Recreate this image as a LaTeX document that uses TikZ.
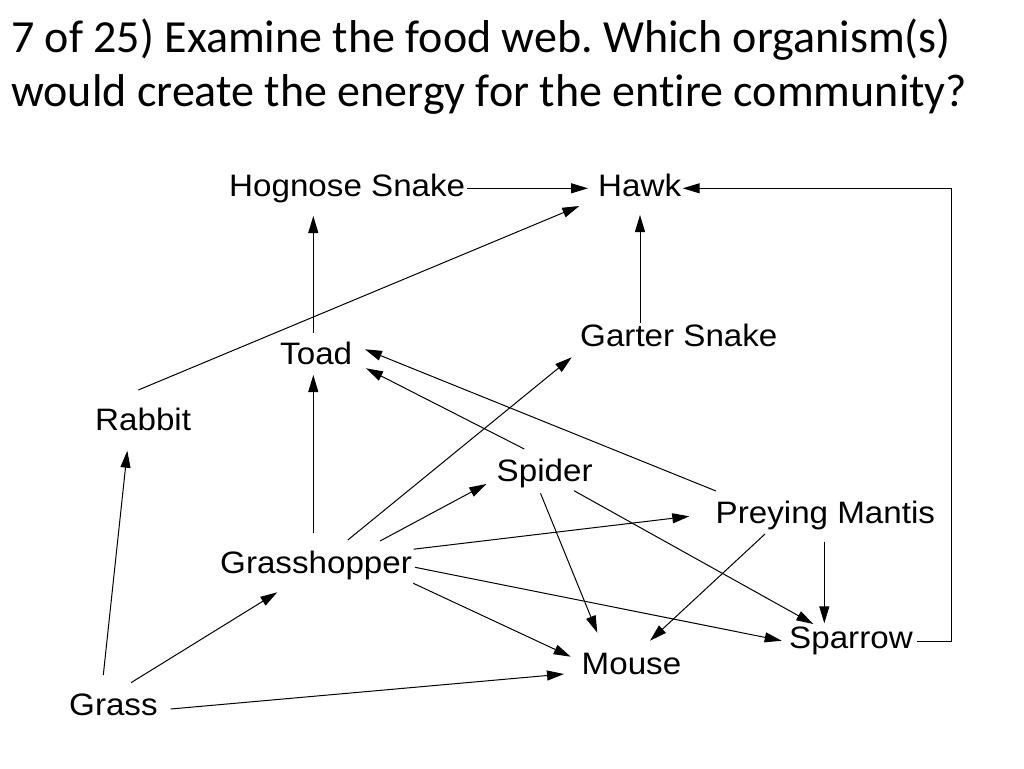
\documentclass[tikz,border=0pt]{standalone}
\usepackage{fontspec}
\setmainfont{Liberation Sans}
\newfontfamily\titlefont[Ligatures=NoCommon]{Carlito}
\newfontfamily\labfont[FakeStretch=1.07]{Liberation Sans}
\usetikzlibrary{arrows.meta,calc}
\frenchspacing
\begin{document}
\begin{tikzpicture}[x=1pt,y=-1pt,
  lab/.style={anchor=base west,inner sep=0pt,font=\labfont\fontsize{31}{36}\selectfont},
  ttl/.style={anchor=base west,inner sep=0pt,font=\titlefont\fontsize{46}{54}\selectfont},
  arr/.style={-{Triangle[length=17pt,width=10pt]},line width=1pt}]
\fill[white] (0,0) rectangle (1024,768);
\useasboundingbox (0,0) rectangle (1024,768);
% title
\node[ttl] (t1) at (11,52.3) {7 of 25) Examine the food web. Which organism(s)};
\node[ttl] (t2) at (11,106.7) {would create the energy for the entire community?};
% organisms
\node[lab] (hog) at (229,196.7) {Hognose Snake};
\node[lab] (hawk) at (598,196.7) {Hawk};
\node[lab] (toad) at (280,364) {Toad};
\node[lab] (garter) at (580,346.7) {Garter Snake};
\node[lab] (rabbit) at (95,430.7) {Rabbit};
\node[lab] (spider) at (496.5,481.7) {Spider};
\node[lab] (mantis) at (715.5,523.3) {Preying Mantis};
\node[lab] (gh) at (220,573.3) {Grasshopper};
\node[lab] (sparrow) at (789,648.3) {Sparrow};
\node[lab] (mouse) at (581.5,674) {Mouse};
\node[lab] (grass) at (69,715.7) {Grass};
% connectors
\draw[arr] ($(hog.base west)+(238,-8.4)$) -- ($(hawk.base west)+(-10,-8.4)$);
\draw[arr] ($(toad.base west)+(33.3,-31.3)$) -- ($(hog.base west)+(84.3,19.3)$);
\draw[arr] ($(rabbit.base west)+(43.3,-40.7)$) -- ($(hawk.base west)+(-18.7,9.3)$);
\draw[arr] ($(garter.base west)+(60,-23.4)$) -- ($(hawk.base west)+(42,18.3)$);
\draw[arr] ($(sparrow.base west)+(128.3,-6.6)$) -- ++(34.4,0) |- ($(hawk.base west)+(84.7,-8.4)$);
\draw[arr] ($(gh.base west)+(93.3,-40)$) -- ($(toad.base west)+(33.3,11)$);
\draw[arr] ($(spider.base west)+(27.8,-32.7)$) -- ($(toad.base west)+(86,4.3)$);
\draw[arr] ($(mantis.base west)+(0.5,-32.3)$) -- ($(toad.base west)+(85,-14.7)$);
\draw[arr] ($(gh.base west)+(127.8,-33.3)$) -- ($(garter.base west)+(-8.3,10.6)$);
\draw[arr] ($(gh.base west)+(160,-32.3)$) -- ($(spider.base west)+(-10.2,2.3)$);
\draw[arr] ($(gh.base west)+(193.6,-24.1)$) -- ($(mantis.base west)+(-26.2,-7)$);
\draw[arr] ($(gh.base west)+(195,-6)$) -- ($(sparrow.base west)+(-7.3,-7.6)$);
\draw[arr] ($(gh.base west)+(193.3,10)$) -- ($(mouse.base west)+(-10.8,-17.3)$);
\draw[arr] ($(spider.base west)+(44,11.6)$) -- ($(mouse.base west)+(15.8,-41.3)$);
\draw[arr] ($(spider.base west)+(77.5,9)$) -- ($(sparrow.base west)+(24.3,-24.3)$);
\draw[arr] ($(mantis.base west)+(49.5,10.7)$) -- ($(mouse.base west)+(68.5,-33.3)$);
\draw[arr] ($(mantis.base west)+(108.8,18.4)$) -- ($(sparrow.base west)+(35.3,-25)$);
\draw[arr] ($(grass.base west)+(34.3,-40.7)$) -- ($(rabbit.base west)+(32.3,20)$);
\draw[arr] ($(grass.base west)+(62,-33)$) -- ($(gh.base west)+(57.3,19)$);
\draw[arr] ($(grass.base west)+(101.7,-6.7)$) -- ($(mouse.base west)+(-17.5,0)$);
\end{tikzpicture}
\end{document}
